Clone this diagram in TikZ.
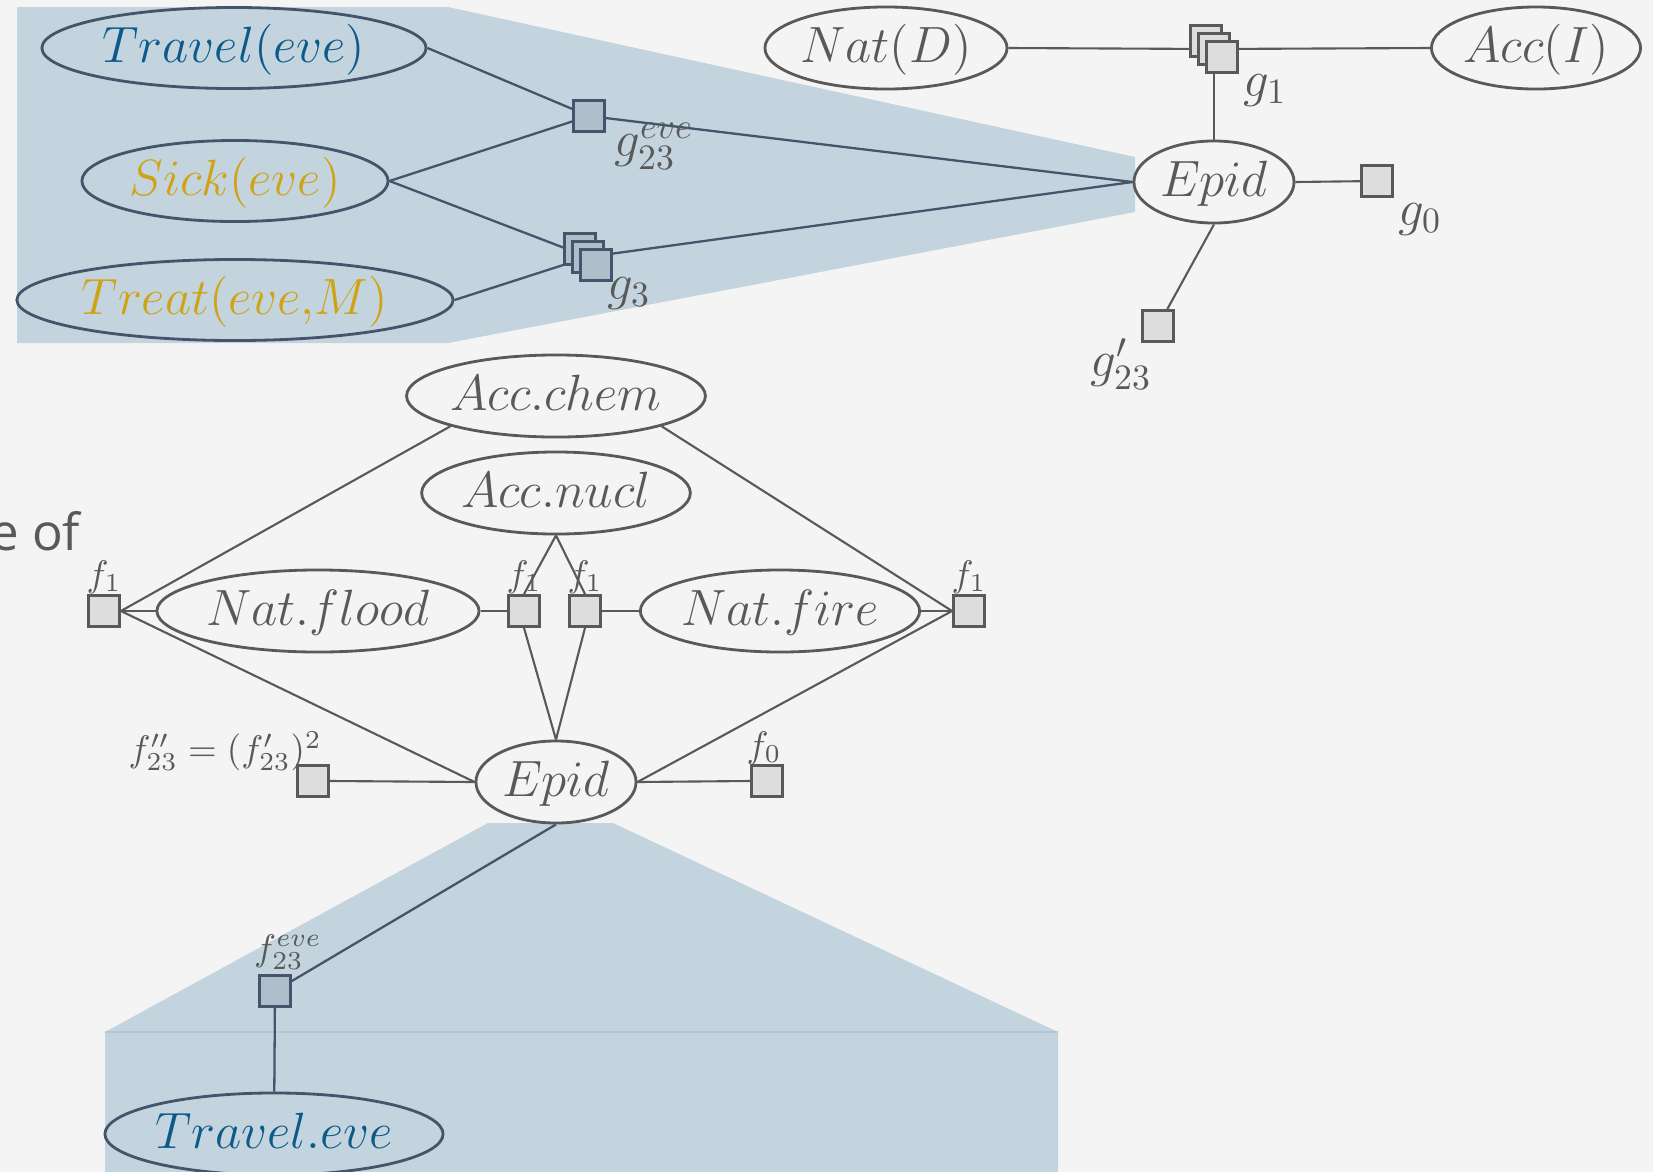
\RequirePackage{fix-cm}
\documentclass[tikz,border=0pt]{standalone}
\usepackage{fontspec}
\newfontfamily\slidefont{Open Sans}
\usetikzlibrary{shapes.geometric,backgrounds}

\definecolor{slidebg}{HTML}{F4F4F4}
\definecolor{liftshade}{HTML}{C3D4DE}
\definecolor{liftseam}{HTML}{B2C8D7}
\definecolor{darkedge}{HTML}{44546A}
\definecolor{grayedge}{HTML}{595959}
\definecolor{factorfill}{HTML}{DDDDDD}
\definecolor{liftfill}{HTML}{AEBFCB}
\definecolor{evblue}{HTML}{0B5A8A}
\definecolor{evgold}{HTML}{CFA313}

\tikzset{
  rv/.style={ellipse, draw=grayedge, line width=0.8pt, inner sep=0pt, text=grayedge,
    text height=0.85em, text depth=0.05em, font=\fontsize{14.5}{17}\selectfont},
  liftrv/.style={rv, draw=darkedge},
  factor/.style={rectangle, draw=grayedge, fill=factorfill, line width=0.8pt,
    minimum size=0.31cm, inner sep=0pt},
  liftfactor/.style={factor, draw=darkedge, fill=liftfill},
  glabel/.style={text=grayedge, font=\fontsize{14.5}{17}\selectfont, inner sep=0pt},
  flabel/.style={text=grayedge, font=\fontsize{10.5}{12}\selectfont, inner sep=0pt},
  link/.style={grayedge, line width=0.6pt},
  liftlink/.style={darkedge, line width=0.65pt},
}

\begin{document}
\begin{tikzpicture}[x=0.01cm, y=-0.01cm]
\useasboundingbox (0,0) rectangle (1653,1172);
\clip (0,0) rectangle (1653,1172);

% slide background and the two lifted regions
\begin{scope}[on background layer]
  \fill[slidebg] (0,0) rectangle (1653,1172);
  \fill[liftshade] (17,7) -- (448,7) -- (1135,157) -- (1135,212) -- (448,343) -- (17,343) -- cycle;
  \fill[liftshade] (488,823) -- (613,823) -- (1058,1032) -- (1058,1172) -- (105,1172) -- (105,1032) -- cycle;
  \draw[liftseam, line width=0.4pt] (105,1032) -- (1058,1032);
\end{scope}

% leftover slide text
\node[anchor=base east, inner sep=0pt, text=grayedge, font=\slidefont\fontsize{14.5}{17}\selectfont] (slidetext) at (81,550) {e of};

%% upper model
\node[liftrv, minimum width=3.84cm, minimum height=0.81cm, text=evblue] (travel) at (234,48) {$Travel(eve)$};
\node[liftrv, minimum width=3.06cm, minimum height=0.81cm, text=evgold] (sick) at (235,181) {$Sick(eve)$};
\node[liftrv, minimum width=4.36cm, minimum height=0.81cm, text=evgold] (treat) at (235,300) {$Treat(eve{,}M)$};

\node[liftfactor] (g23eve) at (589,116) {};
\node[liftfactor] (g3b) at (580,249) {};
\node[liftfactor] (g3) at (588,257) {};
\node[liftfactor] (g3f) at (596,265) {};

\node[rv, minimum width=1.60cm, minimum height=0.82cm] (epid) at (1214,182) {$Epid$};
\node[rv, minimum width=2.40cm, minimum height=0.82cm] (natd) at (886,48) {$Nat(D)$};
\node[rv, minimum width=2.09cm, minimum height=0.82cm] (acci) at (1536,48) {$Acc(I)$};

\node[factor] (g1b) at (1206,41) {};
\node[factor] (g1) at (1214,49) {};
\node[factor] (g1f) at (1222,57) {};
\node[factor] (g0) at (1377,181) {};
\node[factor] (g23p) at (1158,326) {};

\node[glabel] (lg23eve) at (654,146) {$g_{23}^{eve}$};
\node[glabel] (lg3) at (629,293) {$g_3$};
\node[glabel] (lg1) at (1265,90) {$g_1$};
\node[glabel] (lg0) at (1420,219) {$g_0$};
\node[glabel] (lg23p) at (1121,364) {$g'_{23}$};

%% lower model
\node[rv, minimum width=2.98cm, minimum height=0.82cm] (chem) at (556,396) {$Acc.chem$};
\node[rv, minimum width=2.68cm, minimum height=0.82cm] (nucl) at (556,493) {$Acc.nucl$};
\node[rv, minimum width=3.22cm, minimum height=0.82cm] (flood) at (318,611) {$Nat.flood$};
\node[rv, minimum width=2.72cm, minimum height=0.82cm] (fire) at (780,611) {$Nat.fire$};
\node[rv, minimum width=1.60cm, minimum height=0.82cm] (epidb) at (556,782) {$Epid$};
\node[liftrv, minimum width=3.38cm, minimum height=0.82cm, text=evblue] (traveleve) at (274,1134) {$Travel.eve$};

\node[factor] (f1a) at (104,611) {};
\node[factor] (f1b) at (524,611) {};
\node[factor] (f1c) at (585,611) {};
\node[factor] (f1d) at (969,611) {};
\node[factor] (f0) at (767,781) {};
\node[factor] (f23pp) at (313,781) {};
\node[liftfactor] (f23eve) at (275,991) {};

\node[flabel] (lf1a) at (104,577) {$f_1$};
\node[flabel] (lf1b) at (524,577) {$f_1$};
\node[flabel] (lf1c) at (585,577) {$f_1$};
\node[flabel] (lf1d) at (969,577) {$f_1$};
\node[flabel] (lf0) at (764,748) {$f_0$};
\node[flabel] (lf23pp) at (225,751) {$f''_{23} = (f'_{23})^2$};
\node[flabel] (lf23eve) at (288,952) {$f_{23}^{eve}$};

% connectors
\begin{scope}[on background layer]
  \draw[liftlink] (travel.east) -- (g23eve);
  \draw[liftlink] (sick.east) -- (g23eve);
  \draw[liftlink] (sick.east) -- (g3);
  \draw[liftlink] (treat.east) -- (g3);
  \draw[liftlink] (g23eve) -- (epid.west);
  \draw[liftlink] (g3) -- (epid.west);

  \draw[link] (natd.east) -- (g1) -- (acci.west);
  \draw[link] (g1) -- (epid.north);
  \draw[link] (epid.east) -- (g0);
  \draw[link] (epid.south) -- (g23p);

  \draw[link] (chem.196) -- (f1a.east);
  \draw[link] (chem.344) -- (f1d.west);
  \draw[link] (nucl.south) -- (f1b.north);
  \draw[link] (nucl.south) -- (f1c.north);
  \draw[link] (f1a.east) -- (flood.west);
  \draw[link] (flood.east) -- (f1b.west);
  \draw[link] (f1c.east) -- (fire.west);
  \draw[link] (fire.east) -- (f1d.west);
  \draw[link] (f1a.east) -- (epidb.west);
  \draw[link] (f1d.west) -- (epidb.east);
  \draw[link] (f1b.south) -- (epidb.north);
  \draw[link] (f1c.south) -- (epidb.north);
  \draw[link] (f23pp.east) -- (epidb.west);
  \draw[link] (epidb.east) -- (f0.west);
  \draw[liftlink] (epidb.south) -- (f23eve);
  \draw[liftlink] (f23eve) -- (traveleve);
\end{scope}
\end{tikzpicture}
\end{document}
